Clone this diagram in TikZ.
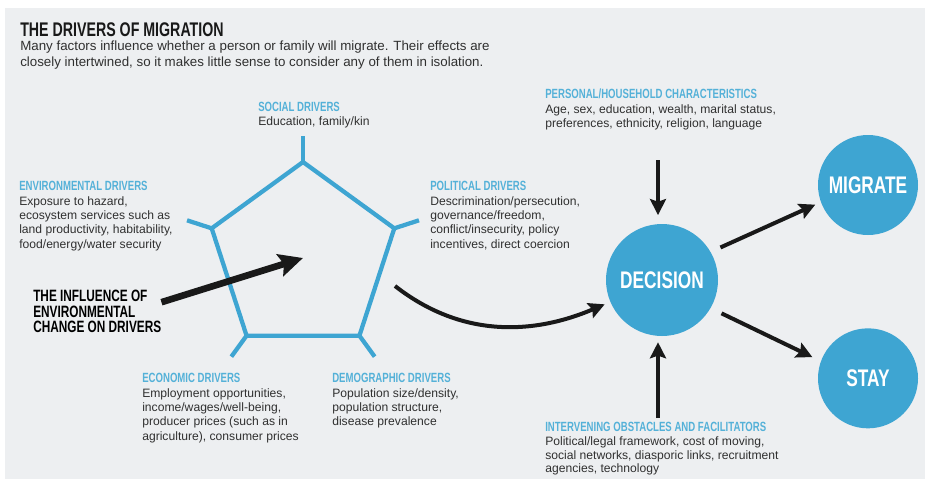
\documentclass[tikz,border=0pt]{standalone}
\usepackage{fontspec}
\setmainfont{Liberation Sans}
\newfontfamily\condfont[FakeStretch=0.72]{Liberation Sans}
\usetikzlibrary{shapes.geometric, positioning, arrows.meta, calc}

\definecolor{paper}{RGB}{237,239,241}
\definecolor{driverblue}{RGB}{62,165,210}
\definecolor{headblue}{RGB}{84,177,216}
\definecolor{textgrey}{RGB}{48,48,48}

\begin{document}
\begin{tikzpicture}[x=0.75pt, y=-0.75pt,
    title/.style={font=\condfont\bfseries\fontsize{14.8}{15}\selectfont, text=black!90, inner sep=0pt, anchor=base west},
    intro/.style={font=\fontsize{10}{12.2}\selectfont, text=textgrey, align=left, inner sep=0pt},
    head/.style={font=\condfont\bfseries\fontsize{10}{11}\selectfont, text=headblue, inner sep=0pt, anchor=base west},
    body/.style={font=\fontsize{9.1}{10.8}\selectfont, text=textgrey, align=left, inner sep=0pt},
    outcome/.style={circle, fill=driverblue, inner sep=0pt, minimum size=75pt, text=white,
        font=\condfont\bfseries\fontsize{18}{18}\selectfont},
    arr/.style={-{Stealth[length=12pt, width=12pt, inset=2pt]}, line width=3pt, black!90},
    bigarr/.style={-{Stealth[length=18pt, width=17pt, inset=3pt]}, line width=5pt, black!90},
    spoke/.style={line width=3.2pt, draw=driverblue}]

    \useasboundingbox (0,0) rectangle (925,479);
    \fill[white] (0,0) rectangle (925,479);
    \fill[paper] (5,8) rectangle (925,479);

    %% TITLE
    \node[title] (ttl) at (20,36) {THE DRIVERS OF MIGRATION};
    \node[intro, below=3.2pt of ttl.base west, anchor=north west] (sub)
        {Many factors influence whether a person or family will migrate. Their effects are\\
         closely intertwined, so it makes little sense to consider any of them in isolation.};

    %% THE PENTAGON OF DRIVERS
    \node[regular polygon, regular polygon sides=5, minimum size=144pt, inner sep=0pt, outer sep=0pt,
          draw=driverblue, line width=3.2pt] (drivers) at (303,258) {};
    \foreach \c in {1,...,5}
        \draw[spoke] (drivers.corner \c) -- ($(drivers.center)!1.27!(drivers.corner \c)$);

    % The five groups of drivers
    \node[head] (sochead) at (258,111) {SOCIAL DRIVERS};
    \node[body, below=4.2pt of sochead.base west, anchor=north west] (socbody)
        {Education, family/kin};

    \node[head] (envhead) at (19,190) {ENVIRONMENTAL DRIVERS};
    \node[body, below=4.6pt of envhead.base west, anchor=north west] (envbody)
        {Exposure to hazard,\\ecosystem services such as\\land productivity, habitability,\\food/energy/water security};

    \node[head] (polhead) at (430,190) {POLITICAL DRIVERS};
    \node[body, below=4.6pt of polhead.base west, anchor=north west] (polbody)
        {Descrimination/persecution,\\governance/freedom,\\conflict/insecurity, policy\\incentives, direct coercion};

    \node[head] (ecohead) at (142,382) {ECONOMIC DRIVERS};
    \node[body, below=4.6pt of ecohead.base west, anchor=north west] (ecobody)
        {Employment opportunities,\\income/wages/well-being,\\producer prices (such as in\\agriculture), consumer prices};

    \node[head] (demhead) at (332,382) {DEMOGRAPHIC DRIVERS};
    \node[body, below=4.6pt of demhead.base west, anchor=north west] (dembody)
        {Population size/density,\\population structure,\\disease prevalence};

    % The influence of the environment
    \node[font=\condfont\bfseries\fontsize{12.3}{11.6}\selectfont, align=left, inner sep=0pt, anchor=north west]
        (influence) at (33,290) {THE INFLUENCE OF\\ENVIRONMENTAL\\CHANGE ON DRIVERS};

    %% DECISION AND OUTCOMES
    \node[outcome, minimum size=84pt] (decision) at (662,280) {DECISION};
    \node[outcome] (migrate) at (868,185) {MIGRATE};
    \node[outcome] (stay) [below=145pt of migrate.center, anchor=center] {STAY};

    \node[head] (perhead) at (545,98) {PERSONAL/HOUSEHOLD CHARACTERISTICS};
    \node[body, below=4.6pt of perhead.base west, anchor=north west] (perbody)
        {Age, sex, education, wealth, marital status,\\preferences, ethnicity, religion, language};

    \node[head] (obshead) at (545,431) {INTERVENING OBSTACLES AND FACILITATORS};
    \node[body, below=4.4pt of obshead.base west, anchor=north west, font=\fontsize{9.1}{10}\selectfont] (obsbody)
        {Political/legal framework, cost of moving,\\social networks, diasporic links, recruitment\\agencies, technology};

    %% ARROWS
    \coordinate (bend) at (395,286);
    \coordinate (pertail) at (658,160);
    \coordinate (obstail) at (658,418);

    \draw[bigarr] ([yshift=7pt]influence.east) -- (drivers.center);
    \draw[arr, shorten >=4.5pt] (bend) to[out=-38, in=203] (decision);
    \draw[arr, shorten >=6.5pt] (pertail) -- (pertail |- decision.north);
    \draw[arr, shorten >=4.5pt] (obstail) -- (obstail |- decision.south);
    \draw[arr, shorten <=8pt, shorten >=4.5pt] (decision.30) -- (migrate.200);
    \draw[arr, shorten <=9pt, shorten >=7pt] (decision.-30) -- (stay.160);

\end{tikzpicture}
\end{document}
